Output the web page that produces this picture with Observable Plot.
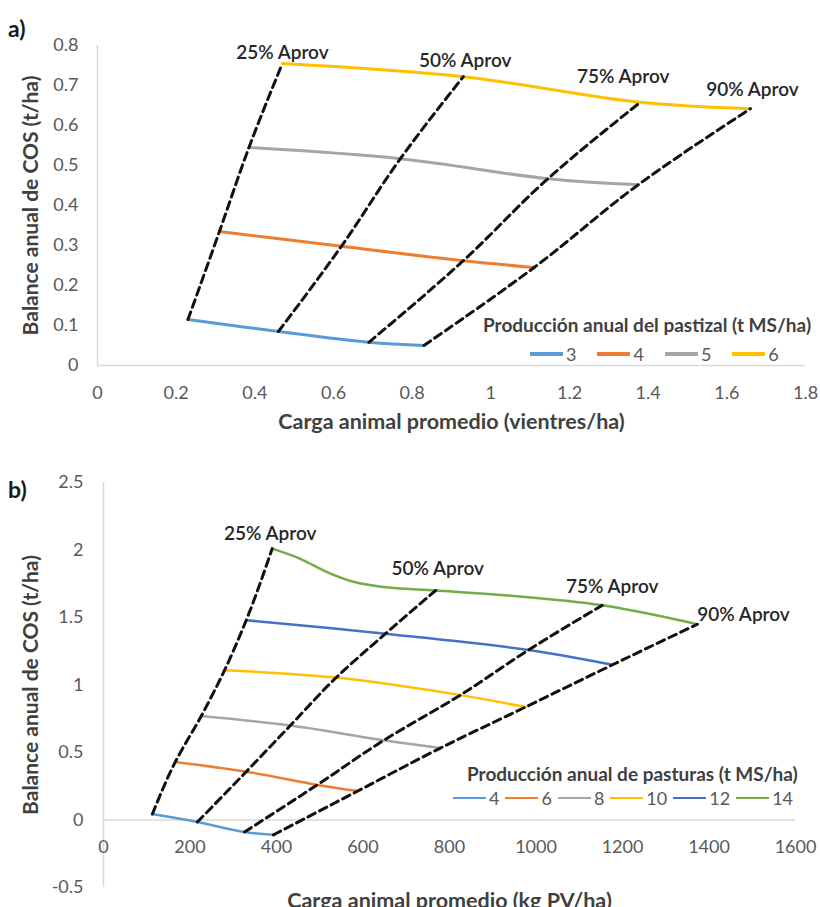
<!DOCTYPE html>
<html><head><meta charset="utf-8">
<script src="https://cdn.jsdelivr.net/npm/d3@7"></script>
<script src="https://cdn.jsdelivr.net/npm/@observablehq/plot@0.6"></script>
<style>
body{margin:0;background:#fff;}
#wrap{position:relative;width:820px;height:907px;overflow:hidden;font-family:Lato,"Open Sans",sans-serif;background:#fff;}
.panel{position:absolute;left:0;}
.tag{position:absolute;font-weight:700;font-size:23px;color:#1a1a1a;line-height:26px;}
.ltitle{position:absolute;font-weight:700;font-size:19px;color:#404040;white-space:nowrap;line-height:22px;}
.litems{position:absolute;display:flex;align-items:center;font-size:18px;color:#595959;line-height:20px;white-space:nowrap;}
.litems .sw{display:inline-block;width:33px;margin-right:3px;}
.litems .it{display:flex;align-items:center;}
</style></head>
<body><div id="wrap"></div>
<script>
// ---------- DATA ----------
const aprovLevels = ["25% Aprov", "50% Aprov", "75% Aprov", "90% Aprov"];

// Panel a) — Producción anual del pastizal (t MS/ha)
const aProduccion = ["3", "4", "5", "6"];
const aCarga = [            // vientres/ha at 25/50/75/90 % aprovechamiento
  [0.23, 0.46, 0.69, 0.83],
  [0.31, 0.62, 0.93, 1.11],
  [0.385, 0.77, 1.145, 1.375],
  [0.47, 0.93, 1.38, 1.66]
];
const aBalance = [          // t/ha
  [0.115, 0.085, 0.058, 0.05],
  [0.335, 0.298, 0.262, 0.245],
  [0.545, 0.517, 0.467, 0.452],
  [0.755, 0.722, 0.658, 0.642]
];
const aXTicks = [0, 0.2, 0.4, 0.6, 0.8, 1, 1.2, 1.4, 1.6, 1.8];
const aYTicks = [0, 0.1, 0.2, 0.3, 0.4, 0.5, 0.6, 0.7, 0.8];

// Panel b) — Producción anual de pasturas (t MS/ha)
const bProduccion = ["4", "6", "8", "10", "12", "14"];
const bCarga = [            // kg PV/ha at 25/50/75/90 % aprovechamiento
  [113, 217, 326, 393],
  [166, 330, 494, 588],
  [226, 432, 648, 779],
  [280, 538, 825, 976],
  [330, 652, 983, 1177],
  [390, 768, 1153, 1373]
];
const bBalance = [
  [0.044, -0.015, -0.089, -0.11],
  [0.43, 0.358, 0.26, 0.215],
  [0.77, 0.70, 0.59, 0.533],
  [1.11, 1.055, 0.925, 0.837],
  [1.48, 1.38, 1.26, 1.15],
  [2.01, 1.70, 1.59, 1.45]
];
// intermediate points
const bExtraSerie = ["14", "14", "14", "14", "14"];
const bExtraCarga = [455, 518, 578, 647, 918];
const bExtraBalance = [1.935, 1.835, 1.765, 1.726, 1.667];
const bXTicks = [0, 200, 400, 600, 800, 1000, 1200, 1400, 1600];
const bYTicks = [-0.5, 0, 0.5, 1, 1.5, 2, 2.5];

// ---------- STYLE ----------
const aColors = ["#5B9BD5", "#ED7D31", "#A5A5A5", "#FFC000"];
const bColors = ["#5B9BD5", "#ED7D31", "#A5A5A5", "#FFC000", "#4472C4", "#70AD47"];
const FONT = "Lato, 'Open Sans', sans-serif";
const fmt = d => String(+(+d).toFixed(2));

function nodes(series, carga, bal) {
  const out = [];
  series.forEach((s, i) => carga[i].forEach((x, j) =>
    out.push({serie: s, aprov: aprovLevels[j], order: j, x, y: bal[i][j]})));
  return out;
}

const aNodes = nodes(aProduccion, aCarga, aBalance);
const bNodes = nodes(bProduccion, bCarga, bBalance);
const bLineData = bNodes.concat(bExtraSerie.map((s, k) => ({serie: s, x: bExtraCarga[k], y: bExtraBalance[k]})))
  .sort((p, q) => p.x - q.x);
const aLineData = aNodes.slice().sort((p, q) => p.x - q.x);
const dashedA = aNodes.slice().sort((p, q) => p.y - q.y);
const dashedB = bNodes.slice().sort((p, q) => p.y - q.y);

function aprovLabels(topNodes, dxs, dys, anchors) {
  return aprovLevels.map((lab, i) => Plot.text([topNodes[i]], {
    x: "x", y: "y", text: () => lab, dx: dxs[i], dy: dys[i], textAnchor: anchors[i],
    fill: "#262626", fontSize: 19, fontWeight: 600
  }));
}

const axisGray = "#d9d9d9";

// ---------- PANEL A ----------
const topA = aNodes.filter(d => d.serie === "6");
const plotA = Plot.plot({
  width: 820, height: 450,
  marginLeft: 97, marginRight: 15, marginTop: 45, marginBottom: 85,
  style: {fontFamily: FONT, fontSize: "18px", color: "#595959", background: "white", overflow: "visible"},
  x: {domain: [0, 1.8]},
  y: {domain: [0, 0.8]},
  color: {domain: aProduccion, range: aColors},
  marks: [
    Plot.ruleX([0], {stroke: axisGray, strokeWidth: 1.5}),
    Plot.ruleY([0], {stroke: axisGray, strokeWidth: 1.5}),
    Plot.axisX({ticks: aXTicks, tickSize: 0, tickPadding: 21, tickFormat: fmt, label: null, fill: "#595959", fontSize: 18}),
    Plot.axisX({ticks: [], tickSize: 0, label: "Carga animal promedio (vientres/ha)", labelAnchor: "center", labelArrow: "none", labelOffset: 63, fill: "#404040", fontSize: 21.5, fontWeight: 700}),
    Plot.axisY({ticks: aYTicks, tickSize: 0, tickPadding: 19, tickFormat: fmt, label: null, fill: "#595959", fontSize: 18}),
    Plot.axisY({ticks: [], tickSize: 0, label: "Balance anual de COS (t/ha)", labelAnchor: "center", labelArrow: "none", labelOffset: 74, fill: "#404040", fontSize: 21, fontWeight: 700}),
    Plot.line(aLineData, {x: "x", y: "y", z: "serie", stroke: "serie", strokeWidth: 3, curve: "catmull-rom"}),
    Plot.line(dashedA, {x: "x", y: "y", z: "aprov", stroke: "#111", strokeWidth: 3, strokeDasharray: "8,5", curve: "monotone-y"}),
    ...aprovLabels(topA, [0, 2, -17, 2], [-11, -16, -25, -19], ["middle", "middle", "middle", "middle"])
  ]
});

// ---------- PANEL B ----------
const topB = bNodes.filter(d => d.serie === "14");
const plotB = Plot.plot({
  width: 820, height: 457,
  marginLeft: 103, marginRight: 25, marginTop: 32, marginBottom: 20,
  style: {fontFamily: FONT, fontSize: "18px", color: "#595959", background: "white", overflow: "visible"},
  x: {domain: [0, 1600]},
  y: {domain: [-0.5, 2.5]},
  color: {domain: bProduccion, range: bColors},
  marks: [
    Plot.ruleX([0], {stroke: axisGray, strokeWidth: 1.5}),
    Plot.ruleY([0], {stroke: axisGray, strokeWidth: 1.5}),
    Plot.text(bXTicks, {x: d => d, y: 0, text: d => fmt(d), dy: 27, fill: "#595959", fontSize: 18}),
    Plot.axisX({ticks: [], tickSize: 0, label: "Carga animal promedio (kg PV/ha)", labelAnchor: "center", labelArrow: "none", labelOffset: 20, fill: "#404040", fontSize: 21.5, fontWeight: 700}),
    Plot.axisY({ticks: bYTicks, tickSize: 0, tickPadding: 20, tickFormat: fmt, label: null, fill: "#595959", fontSize: 18}),
    Plot.axisY({ticks: [], tickSize: 0, label: "Balance anual de COS (t/ha)", labelAnchor: "center", labelArrow: "none", labelOffset: 80, fill: "#404040", fontSize: 21, fontWeight: 700}),
    Plot.line(bLineData, {x: "x", y: "y", z: "serie", stroke: "serie", strokeWidth: 2.5, curve: "catmull-rom"}),
    Plot.line(dashedB, {x: "x", y: "y", z: "aprov", stroke: "#111", strokeWidth: 3, strokeDasharray: "8,5", curve: "monotone-y"}),
    ...aprovLabels(topB, [-2, 2, 10, 0], [-15, -22, -18, -9], ["middle", "middle", "middle", "start"])
  ]
});

// ---------- LAYOUT ----------
const wrap = document.getElementById("wrap");
function place(el, top) { el.classList.add("panel"); el.style.top = top + "px"; wrap.appendChild(el); }
place(plotA, 0);
place(plotB, 450);

function addDiv(cls, text, left, top) {
  const d = document.createElement("div");
  d.className = cls; d.textContent = text;
  d.style.left = left + "px"; d.style.top = top + "px";
  wrap.appendChild(d); return d;
}
addDiv("tag", "a)", 8, 15);
addDiv("tag", "b)", 8, 476);

function legend(title, series, colors, thick, left, top, itemsLeft, itemsTop, gap) {
  addDiv("ltitle", title, left, top);
  const row = addDiv("litems", "", itemsLeft, itemsTop);
  series.forEach((s, i) => {
    const it = document.createElement("span"); it.className = "it";
    it.style.marginRight = gap + "px";
    const sw = document.createElement("span"); sw.className = "sw";
    sw.style.height = thick + "px"; sw.style.background = colors[i];
    const t = document.createElement("span"); t.textContent = s;
    it.appendChild(sw); it.appendChild(t); row.appendChild(it);
  });
}
legend("Producción anual del pastizal (t MS/ha)", aProduccion, aColors, 4, 483, 314, 530, 344, 21);
legend("Producción anual de pasturas (t MS/ha)", bProduccion, bColors, 2, 467, 763, 453, 788, 6);
</script></body></html>
